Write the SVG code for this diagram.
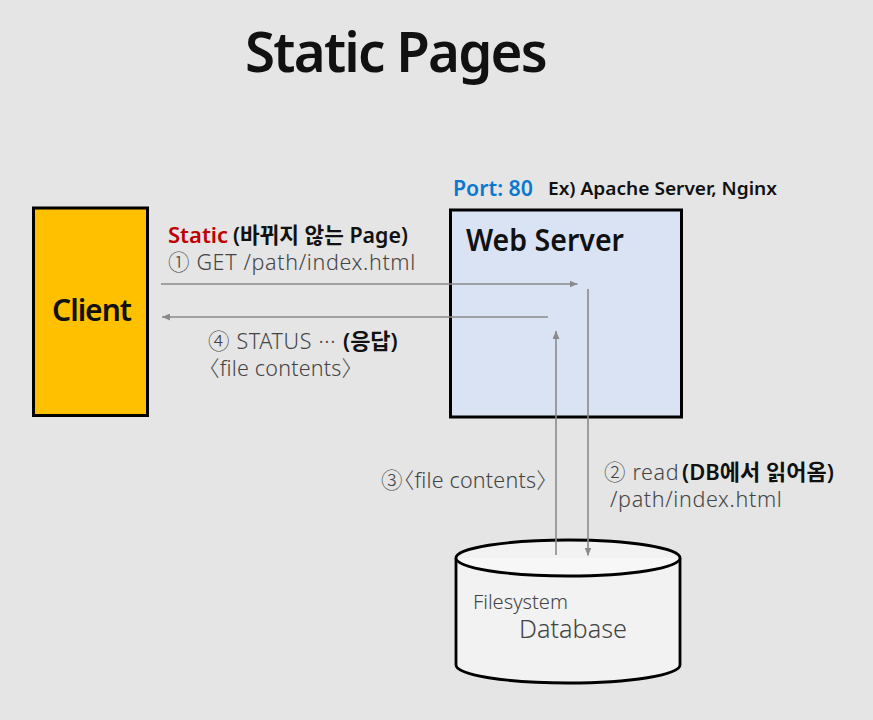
<svg xmlns="http://www.w3.org/2000/svg" width="873" height="720" viewBox="0 0 873 720">
<style>
text{font-family:"Noto Sans","Noto Sans CJK KR",sans-serif;fill:#111}
.l{font-size:21.500px;fill:#444;font-weight:300;letter-spacing:.65px}
.f{letter-spacing:.2px}
.b{font-weight:600}
.k{font-weight:600;fill:#111;font-size:22px;letter-spacing:0}
.box{stroke:#000;stroke-width:3}
.c{stroke:#8a8a8a;stroke-width:1.600;fill:none;marker-end:url(#a)}
</style>
<defs><marker id="a" markerWidth="8" markerHeight="7" refX="8" refY="3.500" orient="auto" markerUnits="userSpaceOnUse"><path d="M0 0L8 3.500L0 7Z" fill="#8a8a8a"/></marker></defs>
<rect width="873" height="720" fill="#e5e5e5"/>
<text id="title" x="245" y="72" font-size="56" class="b" letter-spacing="-1.800" textLength="301" lengthAdjust="spacingAndGlyphs">Static Pages</text>
<g id="client"><rect class="box" x="33.500" y="208" width="114" height="207.500" fill="#ffc000"/><text x="52" y="321" font-size="30" class="b" letter-spacing="-1">Client</text></g>
<g id="web-server"><rect class="box" x="450.500" y="210" width="231" height="207" fill="#dae3f3"/><text x="466" y="251" font-size="31" class="b" textLength="158" lengthAdjust="spacingAndGlyphs">Web Server</text></g>
<g id="database"><path d="M456 558V665C456 675 506 683 568 683S680 675 680 665V558C680 548 630 540 568 540S456 548 456 558Z" fill="#f2f2f2" stroke="#000" stroke-width="2.800"/><path d="M456 558C456 568 506 576 568 576S680 568 680 558" fill="#f7f7f7" stroke="#000" stroke-width="2.800"/><text x="473" y="609" font-size="20" style="fill:#444;font-weight:300" textLength="95" lengthAdjust="spacingAndGlyphs">Filesystem</text><text x="519" y="638" font-size="25" style="fill:#444;font-weight:300" textLength="108" lengthAdjust="spacingAndGlyphs">Database</text></g>
<g id="connectors"><path class="c" d="M161 284H577.500"/><path class="c" d="M548 317H162"/><path class="c" d="M588 289V555.500"/><path class="c" d="M556 555V331"/></g>
<text x="453" y="196" font-size="22" class="b" style="fill:#0b78cf" textLength="80" lengthAdjust="spacingAndGlyphs">Port: 80</text>
<text x="548" y="195" font-size="18" class="b" textLength="229" lengthAdjust="spacingAndGlyphs">Ex) Apache Server, Nginx</text>
<text x="168" y="243" font-size="22" class="b"><tspan style="fill:#c00000">Static</tspan><tspan class="k" style="font-size:21.400px" x="233">(바뀌지 않는 Page)</tspan></text>
<text x="168" y="270" class="l">① GET /path/index.html</text>
<text x="208" y="349" class="l">④ STATUS ···<tspan class="k" x="343">(응답)</tspan></text>
<text x="198" y="376" class="l f">〈file contents〉</text>
<text x="381" y="488" class="l f" dx="0 -10">③〈file contents〉</text>
<text x="604" y="480" class="l">② read<tspan class="k" x="682">(DB에서 읽어옴)</tspan></text>
<text x="610" y="507" class="l">/path/index.html</text>
</svg>
